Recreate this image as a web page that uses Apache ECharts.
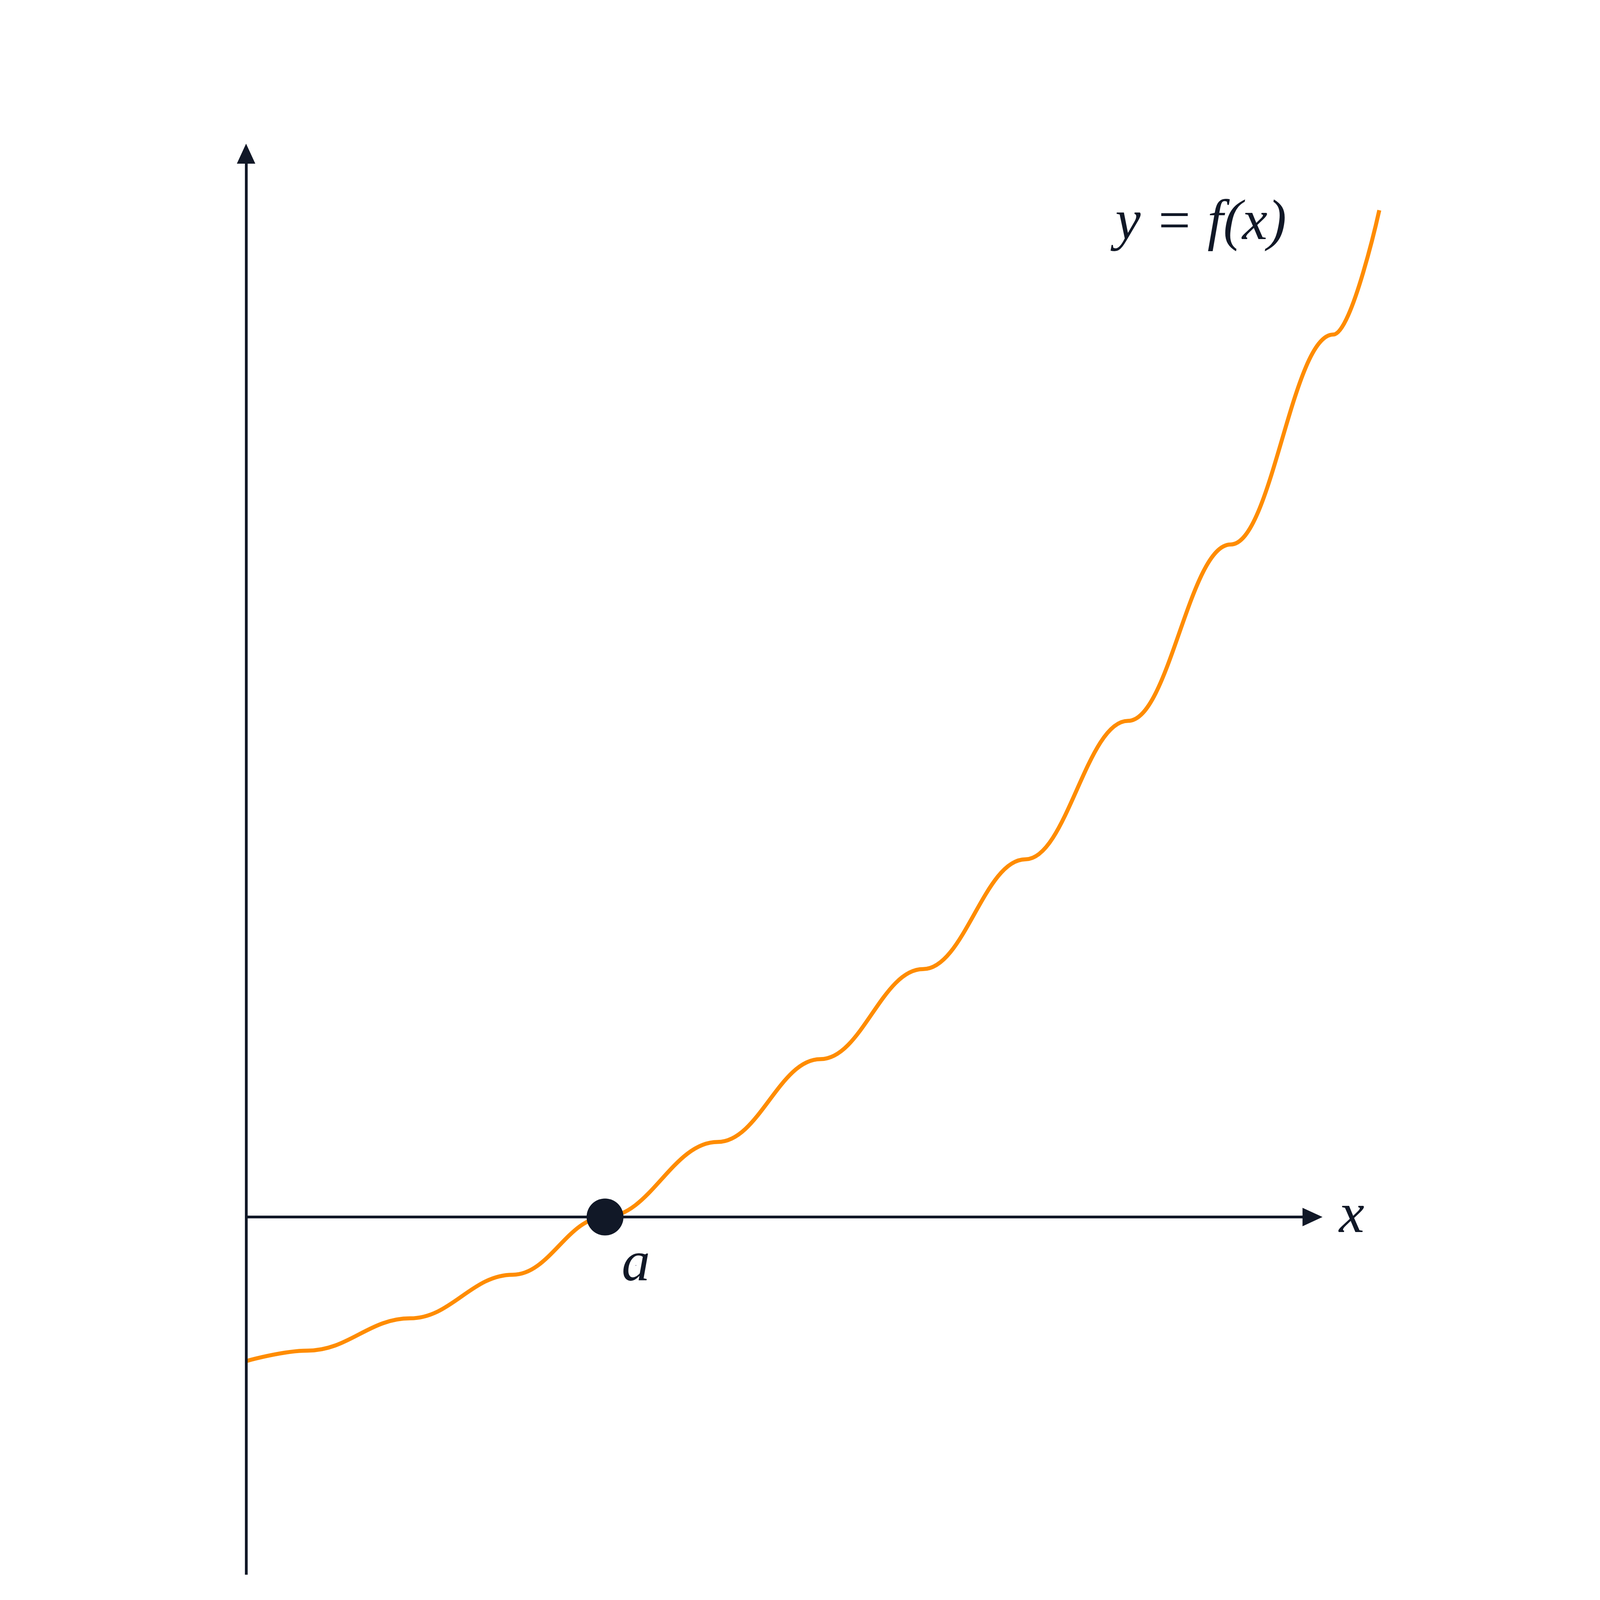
<!DOCTYPE html>
<html><head><meta charset="utf-8">
<script src="https://cdn.jsdelivr.net/npm/echarts@6/dist/echarts.min.js"></script>
<style>html,body{margin:0;background:#fff;overflow:hidden}#c{width:100vw;height:100vh}</style>
</head><body><div id="c"></div>
<script>
const curveX = [0, 0.171, 0.457, 0.743, 1.0, 1.314, 1.6, 1.886, 2.171, 2.457, 2.743, 3.029, 3.157];
const curveY = [-0.357, -0.331, -0.251, -0.143, 0, 0.186, 0.391, 0.614, 0.886, 1.229, 1.666, 2.186, 2.494];
const rootPoint = [1.0, 0];
const xAxisEnd = 2.971, yAxisMin = -0.886, yAxisMax = 2.634;
const labels = [
  {text: 'y', pos: [0.014, 2.83]},
  {text: 'y = f(x)', pos: [2.66, 2.46]},
  {text: 'x', pos: [3.08, 0]},
  {text: 'a', pos: [1.086, -0.12]}
];
const ink = '#111827';
const el = document.getElementById('c');
const chart = echarts.init(el);
const s = el.clientWidth / 5200;
chart.setOption({
  animation: false,
  grid: {left: '15.38%', top: '7.94%', width: '71.79%', height: '90.83%'},
  xAxis: {type: 'value', min: 0, max: 3.2, show: false},
  yAxis: {type: 'value', min: -0.9, max: 2.7, show: false},
  series: [
    {type: 'line', data: [], silent: true,
     markLine: {silent: true, symbol: ['none', 'triangle'], symbolSize: [60 * s, 65 * s], label: {show: false},
       lineStyle: {color: ink, width: 9 * s, type: 'solid', opacity: 1},
       data: [[{coord: [0, 0]}, {coord: [xAxisEnd, 0]}],
              [{coord: [0, yAxisMin]}, {coord: [0, yAxisMax]}]]}},
    {type: 'line', smooth: 0.4, smoothMonotone: 'x', showSymbol: false, clip: false,
     data: curveX.map((x, i) => [x, curveY[i]]),
     lineStyle: {color: '#ff8c00', width: 13 * s}},
    {type: 'scatter', data: [rootPoint], symbolSize: 120 * s, itemStyle: {color: ink, opacity: 1}, z: 5},
    {type: 'scatter', symbolSize: 0, data: labels.map(l => ({value: l.pos, name: l.text})),
     itemStyle: {opacity: 1},
     label: {show: true, position: 'inside', formatter: p => p.name, color: ink,
       fontFamily: 'Liberation Serif', fontStyle: 'italic', fontSize: 185 * s}}
  ]
});
</script></body></html>
